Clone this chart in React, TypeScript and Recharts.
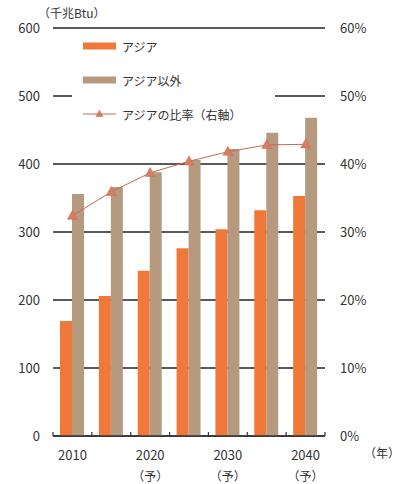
import { Bar, CartesianGrid, ComposedChart, Line, XAxis, YAxis } from "recharts";

const years = ["2010", "2015", "2020", "2025", "2030", "2035", "2040"];
const yearLabels = ["2010", "", "2020", "", "2030", "", "2040"];
const forecastMark = ["", "", "（予）", "", "（予）", "", "（予）"];
const asia = [169, 206, 243, 276, 304, 332, 353];
const nonAsia = [356, 366, 388, 406, 422, 446, 468];
const asiaShare = [32.4, 35.9, 38.7, 40.4, 41.8, 42.8, 42.9];
const leftTicks = [0, 100, 200, 300, 400, 500, 600];
const rightTicks = [0, 10, 20, 30, 40, 50, 60];

const data = years.map((year, i) => ({
  year,
  asia: asia[i],
  nonAsia: nonAsia[i],
  share: asiaShare[i],
}));

const FONT = "'Noto Sans CJK JP', 'Noto Sans', sans-serif";
const TEXT = "#333";
const ORANGE = "#f0783a";
const TAN = "#b59a7f";
const LINE = "#c76a55";
const MARK = "#d87c62";

const W = 404;
const H = 484;
const LEFT_W = 53;
const RIGHT_W = 79;
const PLOT_W = W - LEFT_W - RIGHT_W;

function Triangle({ cx, cy, size = 10 }: { cx?: number; cy?: number; size?: number }) {
  if (cx == null || cy == null) return null;
  const h = size * 0.9;
  return (
    <polygon
      points={`${cx},${cy - h * 0.6} ${cx - size / 2},${cy + h * 0.4} ${cx + size / 2},${cy + h * 0.4}`}
      fill={MARK}
      stroke={LINE}
      strokeWidth={0.5}
    />
  );
}

function YearTick(props: any) {
  const { x, y, index } = props;
  const step = PLOT_W / years.length;
  const last = index === years.length - 1;
  return (
    <g>
      <line x1={x - step / 2} x2={x - step / 2} y1={y - 4} y2={y} stroke="#333" strokeWidth={1.2} />
      {last && <line x1={x + step / 2} x2={x + step / 2} y1={y - 4} y2={y} stroke="#333" strokeWidth={1.2} />}
      <text x={x} y={y + 24} textAnchor="middle" fontSize={13} fill={TEXT} fontFamily={FONT}>
        {yearLabels[index]}
      </text>
      <text x={x} y={y + 45} textAnchor="middle" fontSize={12} fill={TEXT} fontFamily={FONT}>
        {forecastMark[index]}
      </text>
    </g>
  );
}

function LegendBox() {
  const items = [
    { label: "アジア", kind: "bar", color: ORANGE },
    { label: "アジア以外", kind: "bar", color: TAN },
    { label: "アジアの比率（右軸）", kind: "line", color: LINE },
  ];
  return (
    <div style={{ position: "absolute", left: 72, top: 38, background: "#fff", width: 203, height: 86 }}>
      {items.map((it, i) => (
        <div
          key={it.label}
          style={{
            position: "absolute",
            left: 11,
            top: i * 34,
            height: 16,
            display: "flex",
            alignItems: "center",
            fontFamily: FONT,
            fontSize: 12,
            color: TEXT,
            whiteSpace: "nowrap",
          }}
        >
          <svg width={33} height={16} style={{ marginRight: 6 }}>
            {it.kind === "bar" ? (
              <rect x={0} y={4.5} width={33} height={7} fill={it.color} />
            ) : (
              <>
                <line x1={0} x2={33} y1={8} y2={8} stroke={it.color} strokeWidth={1} />
                <Triangle cx={16.5} cy={8} size={7} />
              </>
            )}
          </svg>
          {it.label}
        </div>
      ))}
    </div>
  );
}

export default function App() {
  return (
    <div style={{ position: "absolute", left: 0, top: 0, width: W, height: H, background: "#fff" }}>
      <div
        style={{
          position: "absolute",
          left: 38,
          top: 4,
          fontFamily: FONT,
          fontSize: 12,
          color: TEXT,
          whiteSpace: "nowrap",
        }}
      >
        （千兆Btu）
      </div>
      <div
        style={{
          position: "absolute",
          left: 364,
          top: 444,
          fontFamily: FONT,
          fontSize: 12,
          color: TEXT,
          whiteSpace: "nowrap",
        }}
      >
        （年）
      </div>
      <ComposedChart
        width={W}
        height={H}
        data={data}
        margin={{ top: 28, right: 0, bottom: 0, left: 0 }}
        barGap={0}
      >
        <CartesianGrid yAxisId="left" vertical={false} stroke="#222" strokeWidth={1.5} />
        <XAxis
          dataKey="year"
          height={48}
          tick={<YearTick />}
          tickLine={false}
          tickSize={0}
          tickMargin={0}
          interval={0}
          axisLine={{ stroke: "#333", strokeWidth: 1.5 }}
        />
        <YAxis
          yAxisId="left"
          width={LEFT_W}
          domain={[0, 600]}
          ticks={leftTicks}
          axisLine={false}
          tickLine={false}
          tickSize={0}
          tickMargin={13}
          tick={{ fontSize: 13, fill: TEXT, fontFamily: FONT }}
        />
        <YAxis
          yAxisId="right"
          orientation="right"
          width={RIGHT_W}
          domain={[0, 60]}
          ticks={rightTicks}
          tickFormatter={(v) => `${v}%`}
          axisLine={false}
          tickLine={false}
          tickSize={0}
          tickMargin={15}
          tick={{ fontSize: 13, fill: TEXT, fontFamily: FONT, textAnchor: "start" }}
        />
        <Bar yAxisId="left" dataKey="asia" fill={ORANGE} barSize={12} isAnimationActive={false} />
        <Bar yAxisId="left" dataKey="nonAsia" fill={TAN} barSize={12} isAnimationActive={false} />
        <Line
          yAxisId="right"
          dataKey="share"
          stroke={LINE}
          strokeWidth={1}
          dot={<Triangle />}
          activeDot={false}
          isAnimationActive={false}
        />
      </ComposedChart>
      <LegendBox />
    </div>
  );
}
